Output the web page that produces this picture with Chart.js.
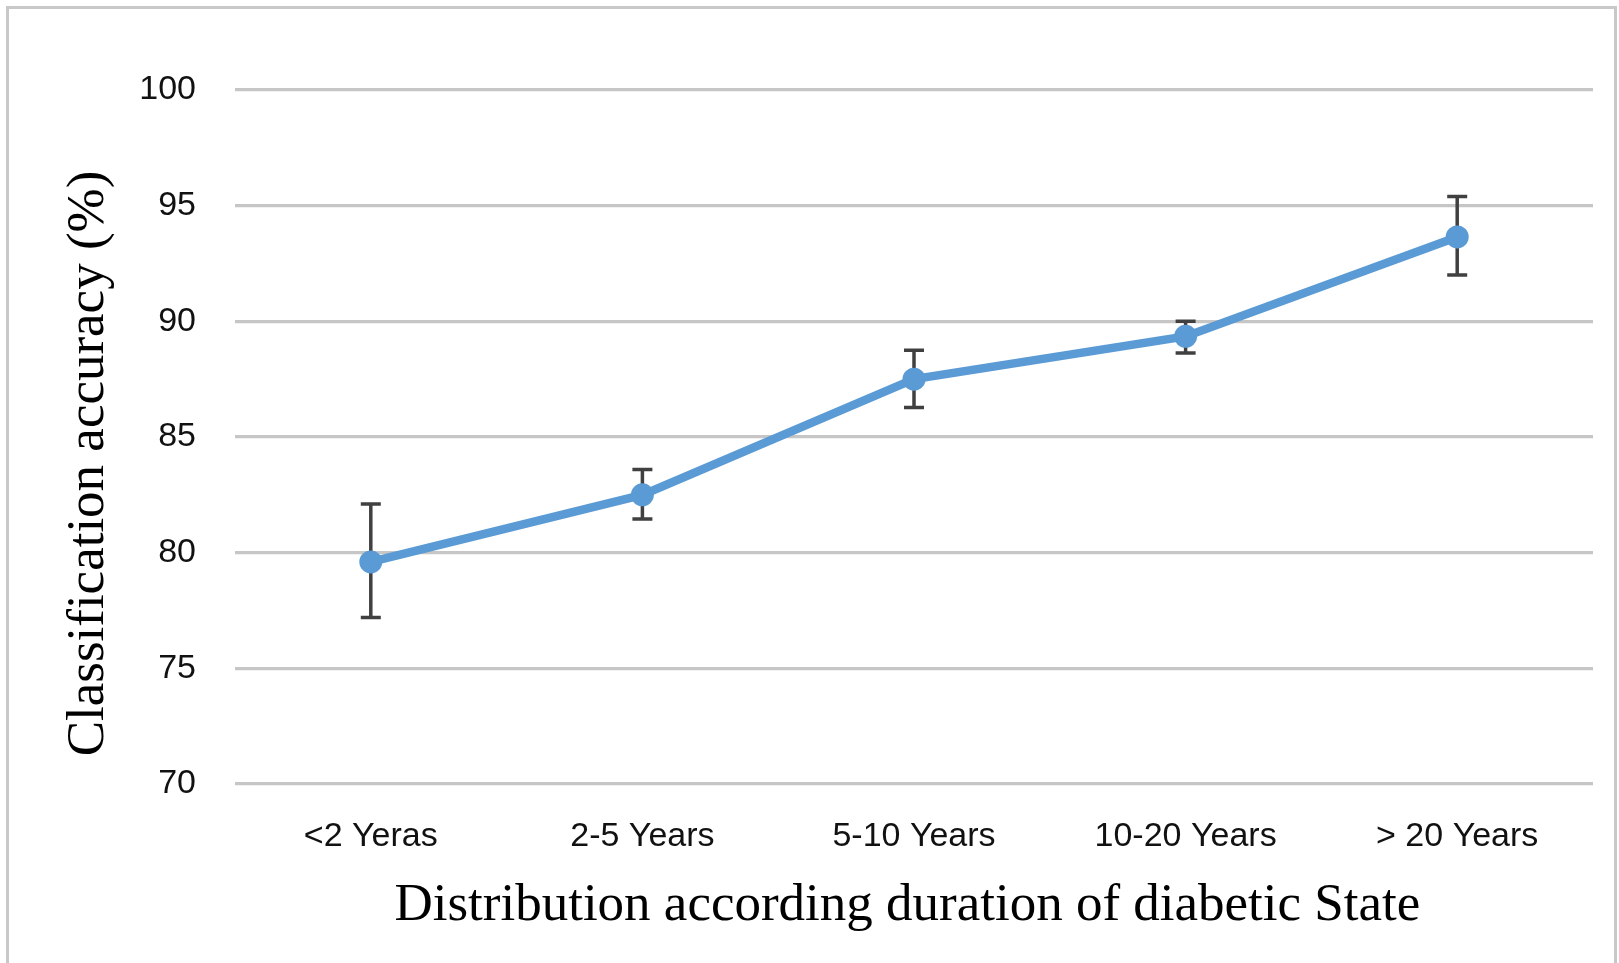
<!DOCTYPE html>
<html>
<head>
<meta charset="utf-8">
<script src="https://cdn.jsdelivr.net/npm/chart.js@4.4.1/dist/chart.umd.min.js"></script>
<style>
  html, body { margin: 0; padding: 0; background: #ffffff; }
  #wrap { width: 1619px; height: 963px; position: relative; }
</style>
</head>
<body>
<div id="wrap"><canvas id="c" width="1619" height="963"></canvas></div>
<script>
const categories = ['<2 Yeras', '2-5 Years', '5-10 Years', '10-20 Years', '> 20 Years'];
const accuracy   = [79.6, 82.5, 87.5, 89.35, 93.65];
const errUpper   = [82.1, 83.6, 88.75, 90.0, 95.4];
const errLower   = [77.2, 81.45, 86.27, 88.63, 92.0];
const yTicks     = [70, 75, 80, 85, 90, 95, 100];
const xTitle = 'Distribution according duration of diabetic State ';
const yTitle = 'Classification accuracy (%)    ';

const frame = {
  id: 'frame',
  beforeDraw(chart) {
    const ctx = chart.ctx;
    ctx.save();
    ctx.fillStyle = '#ffffff';
    ctx.fillRect(0, 0, chart.width, chart.height);
    ctx.strokeStyle = '#c8c8c8';
    ctx.lineWidth = 3;
    ctx.strokeRect(7.5, 7.5, 1608, 1000);
    ctx.restore();
  }
};

const errorBars = {
  id: 'errorBars',
  beforeDatasetsDraw(chart) {
    const ctx = chart.ctx;
    const xs = chart.scales.x, ys = chart.scales.y;
    ctx.save();
    ctx.strokeStyle = '#404040';
    ctx.lineWidth = 3.5;
    ctx.lineCap = 'butt';
    for (let i = 0; i < categories.length; i++) {
      const x = xs.getPixelForValue(i);
      const yt = ys.getPixelForValue(errUpper[i]);
      const yb = ys.getPixelForValue(errLower[i]);
      ctx.beginPath();
      ctx.moveTo(x, yt); ctx.lineTo(x, yb);
      ctx.moveTo(x - 10, yt); ctx.lineTo(x + 10, yt);
      ctx.moveTo(x - 10, yb); ctx.lineTo(x + 10, yb);
      ctx.stroke();
    }
    ctx.restore();
  }
};

new Chart(document.getElementById('c'), {
  type: 'line',
  data: {
    labels: categories,
    datasets: [{
      data: accuracy,
      borderColor: '#5b9bd5',
      backgroundColor: '#5b9bd5',
      borderWidth: 8.5,
      pointRadius: 11.5,
      pointBorderWidth: 0,
      pointBackgroundColor: '#5b9bd5',
      tension: 0,
      fill: false
    }]
  },
  options: {
    responsive: false,
    animation: false,
    devicePixelRatio: 1,
    layout: { padding: { left: 0, top: 90, right: 26, bottom: 0 } },
    plugins: { legend: { display: false }, tooltip: { enabled: false } },
    scales: {
      x: {
        type: 'category',
        offset: true,
        grid: { display: false, drawTicks: false },
        border: { display: false },
        ticks: {
          padding: 32,
          color: '#111111',
          font: { family: 'Liberation Sans', size: 34 }
        },
        title: {
          display: true,
          text: xTitle,
          color: '#000000',
          font: { family: 'Liberation Serif', size: 53 },
          padding: { top: 0, bottom: 25 }
        },
        afterFit(scale) { scale.height = 963 - 784; }
      },
      y: {
        min: 70,
        max: 100,
        afterBuildTicks(scale) { scale.ticks = yTicks.map(v => ({ value: v })); },
        grid: { color: '#c6c6c6', lineWidth: 3.2, drawTicks: false },
        border: { display: false },
        ticks: {
          padding: 39,
          color: '#111111',
          font: { family: 'Liberation Sans', size: 34 }
        },
        title: {
          display: true,
          text: yTitle,
          color: '#000000',
          font: { family: 'Liberation Serif', size: 53 },
          padding: { top: 57, bottom: 0 }
        },
        afterFit(scale) { scale.width = 235; }
      }
    }
  },
  plugins: [frame, errorBars]
});
</script>
</body>
</html>
